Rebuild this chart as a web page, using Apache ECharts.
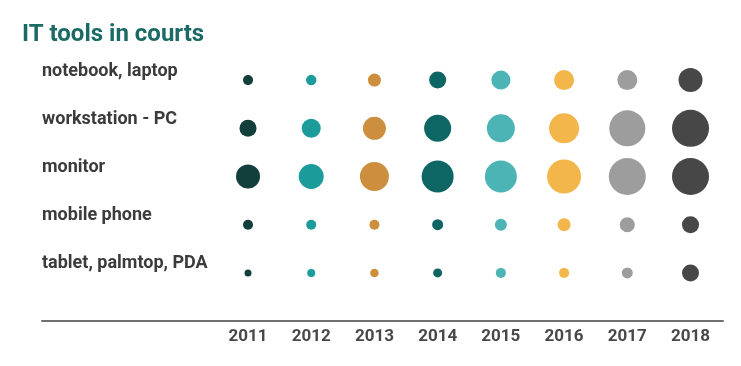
<!DOCTYPE html>
<html>
<head>
<meta charset="utf-8">
<script src="https://cdn.jsdelivr.net/npm/echarts@6/dist/echarts.min.js"></script>
<style>html,body{margin:0;padding:0;background:#fff}#c{width:741px;height:366px}</style>
</head>
<body>
<div id="c"></div>
<script>
var titleText = 'IT tools in courts';
var years = [2011, 2012, 2013, 2014, 2015, 2016, 2017, 2018];
var categories = ['notebook, laptop', 'workstation - PC', 'monitor', 'mobile phone', 'tablet, palmtop, PDA'];
var notebook    = [6.3, 6.9, 10.6, 18.1, 22.6, 25.0, 25.0, 36.0];
var workstation = [18.1, 22.6, 33.1, 45.6, 49.0, 56.3, 81.0, 85.6];
var monitor     = [36.0, 39.1, 52.6, 64.0, 64.0, 72.3, 85.6, 85.6];
var mobile      = [6.3, 6.3, 6.3, 7.6, 9.0, 10.6, 14.1, 18.1];
var tablet      = [3.1, 4.0, 4.5, 5.1, 6.3, 6.3, 7.6, 18.1];
var yearColors  = ['#123f3c', '#1b9c9b', '#cb8f3d', '#0d6664', '#4cb4b4', '#f3b64b', '#9d9d9d', '#474747'];

var rows = [notebook, workstation, monitor, mobile, tablet];
var points = [];
rows.forEach(function (vals, r) {
  vals.forEach(function (v, i) {
    points.push({ value: [years[i], categories[r], v], itemStyle: { color: yearColors[i] } });
  });
});

var chart = echarts.init(document.getElementById('c'), null, { renderer: 'canvas' });
chart.setOption({
  animation: false,
  backgroundColor: '#ffffff',
  title: {
    text: titleText,
    left: 22,
    top: 23,
    padding: 0,
    textStyle: { fontFamily: 'Roboto', fontWeight: 'bold', fontSize: 24, color: '#1c6a65' }
  },
  grid: { left: 42, right: 18, top: 56, height: 241 },
  xAxis: {
    type: 'value',
    min: 2007.741,
    max: 2018.514,
    offset: 24,
    splitLine: { show: false },
    axisTick: { show: false },
    axisLine: { show: true, lineStyle: { color: '#707070', width: 2 } },
    axisLabel: {
      customValues: years,
      margin: 7,
      fontFamily: 'Roboto',
      fontWeight: 'bold',
      fontSize: 17,
      color: '#484848',
      formatter: function (v) { return String(v); }
    }
  },
  yAxis: {
    type: 'category',
    data: categories,
    inverse: true,
    axisLine: { show: false },
    axisTick: { show: false },
    splitLine: { show: false },
    axisLabel: {
      align: 'left',
      verticalAlign: 'bottom',
      margin: 0,
      fontFamily: 'Roboto',
      fontWeight: 'bold',
      fontSize: 18,
      color: '#3b3b3b'
    }
  },
  series: [{
    type: 'scatter',
    data: points,
    itemStyle: { opacity: 1 },
    symbolSize: function (val) { return 4 * Math.sqrt(val[2]); }
  }]
});
</script>
</body>
</html>
